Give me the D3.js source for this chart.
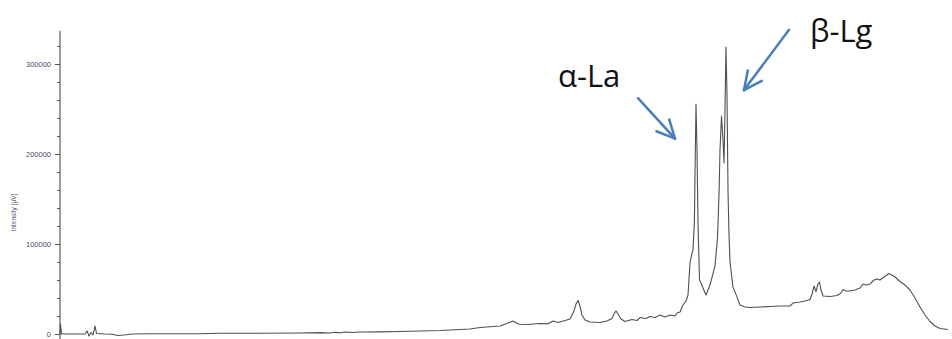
<!DOCTYPE html>
<html>
<head>
<meta charset="utf-8">
<script src="https://cdn.jsdelivr.net/npm/d3@7"></script>
<style>
  html, body { margin: 0; padding: 0; background: #fff; }
  svg { display: block; }
</style>
</head>
<body>
<svg id="chart" width="952" height="339"></svg>
<script>
// retention time (min) -- one line per region, same layout as intensity below
var times = [
  0, 0.025, 0.075, 1.25, 1.35, 1.45, 1.55, 1.65, 1.75, 1.825,
  2.25, 2.6, 2.9, 3.2, 3.6, 4.5, 7.0, 8.0, 10.0, 12.0,
  13.0, 13.5, 13.75, 14.0, 14.25, 14.6, 15.0, 16.0, 17.0, 18.0,
  19.0, 20.0, 20.5, 21.0, 21.5, 22.0, 22.35, 22.65, 22.95, 23.35,
  24.0, 24.4, 24.65, 24.9, 25.25, 25.5, 25.7, 25.8, 25.9, 26.0,
  26.1, 26.25, 26.5, 27.0, 27.35, 27.6, 27.7, 27.8, 27.9, 28.05,
  28.25, 28.6, 28.85, 29.0, 29.3, 29.5, 29.75, 30.0, 30.25, 30.5,
  30.75, 30.85, 31.0, 31.15, 31.3, 31.4, 31.5, 31.6, 31.65, 31.72,
  31.76, 31.8, 31.85, 31.9, 31.975, 32.05, 32.15, 32.3, 32.5, 32.75,
  32.875, 32.95, 33.0, 33.075, 33.15, 33.2, 33.25, 33.3, 33.35, 33.4,
  33.45, 33.5, 33.65, 33.8, 34.0, 34.25, 34.5, 35.0,
  35.5, 36.0, 36.5, 36.65, 37.0, 37.25, 37.5, 37.6, 37.7, 37.8,
  37.9, 37.975, 38.05, 38.15, 38.5, 38.85, 39.05, 39.15, 39.3, 39.5,
  39.75, 40.0, 40.15, 40.3, 40.5, 40.7, 40.85, 41.0, 41.2, 41.45,
  41.75, 42.0, 42.25, 42.5, 42.75, 43.0, 43.25, 43.5, 43.75, 44.0,
  44.4
];

// detector signal (µV)
var intensity = [
  0, 11100, 0, 0, 3300, -2200, 1700, -1100, 8900, 600,
  0, -300, -1700, -1100, 0, 200, 200, 800, 900, 1100,
  1500, 1100, 1900, 1300, 2200, 1700, 2200, 2400, 2800, 3300,
  3900, 5000, 5600, 7200, 8000, 8900, 11700, 14400, 10800, 10600,
  11700, 11300, 14400, 12800, 15000, 16700, 25600, 33300, 37200, 31100,
  21100, 15600, 13300, 12800, 14400, 17200, 22200, 25600, 22200, 16700,
  13900, 16100, 15000, 18300, 17200, 19400, 18300, 21100, 18900, 21100,
  20000, 23300, 24400, 32200, 36700, 43300, 78900, 90000, 93300, 125000,
  193300, 255600, 204400, 123300, 60000, 56700, 51100, 43300, 54400, 75600,
  106700, 154400, 204400, 242200, 215600, 190000, 250000, 318900, 265600, 160000,
  110000, 80000, 52000, 44000, 32200, 30000, 29400, 30000,
  30600, 31100, 31100, 34400, 35600, 36700, 38300, 44400, 53300, 47200,
  55600, 57800, 48900, 42200, 41700, 42800, 45600, 49400, 47800, 47800,
  48900, 51100, 55600, 54400, 55600, 60000, 61100, 60000, 63300, 67200,
  63300, 58300, 54400, 48900, 40000, 30000, 21100, 13900, 8900, 6100,
  5000
];

var majorTicks = [0, 100000, 200000, 300000];
var minorTicks = d3.range(0, 340000, 20000);

// protein labels with arrow start / end points (time, signal)
var peakLabels = ["α-La", "β-Lg"];
var labelPos = [[24.9, 275000], [37.5, 325000]];
var arrowFrom = [[28.9, 262000], [36.45, 338000]];
var arrowTo = [[30.75, 217000], [34.2, 271000]];

var svg = d3.select("#chart");

var x = d3.scaleLinear().domain([0, 44.4]).range([60, 948]);
var y = d3.scaleLinear().domain([0, 300000]).range([334, 64]);

var data = times.map(function (t, i) { return { t: t, v: intensity[i] }; });

// axis line
svg.append("line")
  .attr("x1", x(0)).attr("x2", x(0))
  .attr("y1", y(-6000)).attr("y2", y(337000))
  .attr("stroke", "#3c3c3c")
  .attr("stroke-width", 1);

// minor ticks
svg.append("g")
  .attr("transform", "translate(" + x(0) + ",0)")
  .call(d3.axisLeft(y).tickValues(minorTicks).tickSize(3).tickFormat(""))
  .call(function (g) { g.select(".domain").remove(); })
  .selectAll("line").attr("stroke", "#555");

// major ticks + labels
var yAxis = svg.append("g")
  .attr("transform", "translate(" + x(0) + ",0)")
  .call(d3.axisLeft(y).tickValues(majorTicks).tickSize(5).tickPadding(4).tickFormat(d3.format("d")));
yAxis.select(".domain").remove();
yAxis.selectAll("line").attr("stroke", "#555");
yAxis.selectAll("text")
  .attr("fill", "#4b4b6e")
  .style("font-family", "Liberation Sans, Arial, sans-serif")
  .style("font-size", "7.5px");

// axis title
svg.append("text")
  .attr("transform", "translate(16," + y(135000) + ") rotate(-90)")
  .attr("text-anchor", "middle")
  .attr("fill", "#5a5a78")
  .style("font-family", "Liberation Sans, Arial, sans-serif")
  .style("font-size", "6.5px")
  .text("Intensity [µV]");

// chromatogram trace
svg.append("path")
  .datum(data)
  .attr("fill", "none")
  .attr("stroke", "#505050")
  .attr("stroke-width", 1.1)
  .attr("stroke-linejoin", "round")
  .attr("d", d3.line()
    .x(function (d) { return x(d.t); })
    .y(function (d) { return y(d.v); }));

// annotations
var blue = "#4a7ebb";
peakLabels.forEach(function (lbl, i) {
  svg.append("text")
    .attr("x", x(labelPos[i][0]))
    .attr("y", y(labelPos[i][1]))
    .attr("fill", "#111")
    .style("font-family", "Open Sans, Liberation Sans, sans-serif")
    .style("font-size", "31px")
    .text(lbl);

  var x1 = x(arrowFrom[i][0]), y1 = y(arrowFrom[i][1]);
  var x2 = x(arrowTo[i][0]), y2 = y(arrowTo[i][1]);
  svg.append("line")
    .attr("x1", x1).attr("y1", y1).attr("x2", x2).attr("y2", y2)
    .attr("stroke", blue).attr("stroke-width", 2.5).attr("stroke-linecap", "round");

  // open arrow head
  var ang = Math.atan2(y2 - y1, x2 - x1), len = 20, spread = 0.45;
  [ang + Math.PI - spread, ang + Math.PI + spread].forEach(function (a) {
    svg.append("line")
      .attr("x1", x2).attr("y1", y2)
      .attr("x2", x2 + len * Math.cos(a)).attr("y2", y2 + len * Math.sin(a))
      .attr("stroke", blue).attr("stroke-width", 2.5).attr("stroke-linecap", "round");
  });
});
</script>
</body>
</html>
